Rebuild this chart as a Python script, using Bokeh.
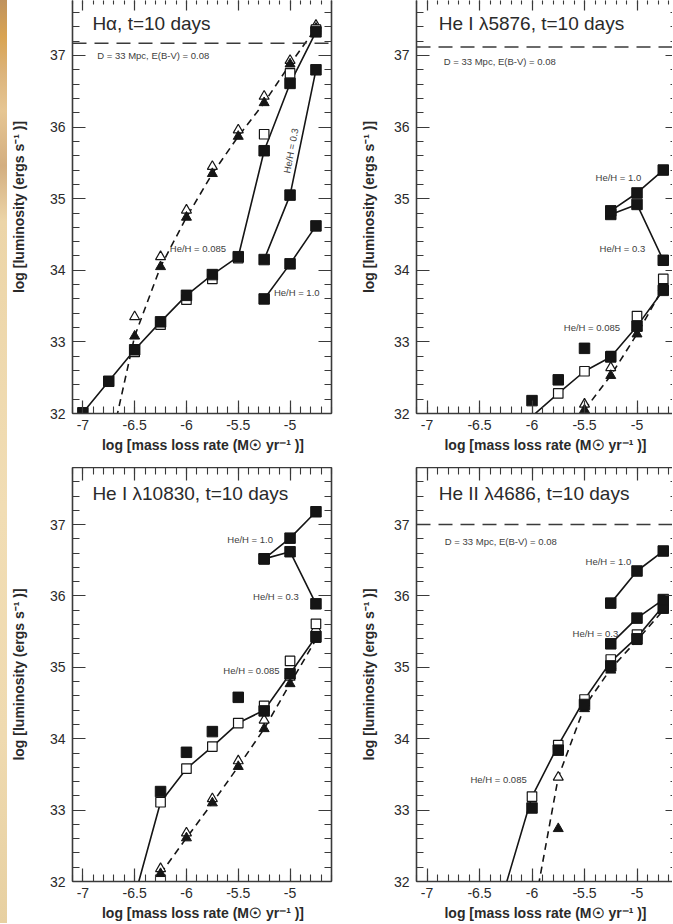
from bokeh.plotting import figure
from bokeh.layouts import column, row
from bokeh.models import (LinearAxis, Span, Label, FixedTicker, Range1d, Div,
                          CustomJSTickFormatter)
from bokeh.embed import file_html
from bokeh.resources import INLINE

# ------------------------------------------------------------------ data
# --- H alpha
ha_solid_x = [-7.0, -6.75, -6.5, -6.25, -6.0, -5.75, -5.5, -5.25, -5.0, -4.75]
ha_solid_y = [32.01, 32.45, 32.89, 33.28, 33.65, 33.94, 34.19, 35.67, 36.61, 37.33]
ha_fsq_x = [-7.0, -6.75, -6.5, -6.25, -6.0, -5.75, -5.5, -5.25, -5.0, -4.75]
ha_fsq_y = [32.01, 32.45, 32.89, 33.28, 33.65, 33.94, 34.19, 35.67, 36.61, 37.33]
ha_osq_x = [-6.5, -6.25, -6.0, -5.75, -5.5, -5.25, -5.0, -4.75]
ha_osq_y = [32.86, 33.24, 33.59, 33.88, 34.17, 35.90, 36.75, 37.36]
ha_dash_x = [-6.75, -6.5, -6.25, -6.0, -5.75, -5.5, -5.25, -5.0, -4.75]
ha_dash_y = [31.45, 33.08, 34.05, 34.74, 35.35, 35.87, 36.34, 36.88, 37.38]
ha_otri_x = [-6.5, -6.25, -6.0, -5.75, -5.5, -5.25, -5.0, -4.75]
ha_otri_y = [33.35, 34.19, 34.84, 35.45, 35.96, 36.43, 36.93, 37.42]
ha_ftri_x = [-6.5, -6.25, -6.0, -5.75, -5.5, -5.25, -5.0, -4.75]
ha_ftri_y = [33.08, 34.05, 34.74, 35.35, 35.87, 36.34, 36.88, 37.38]
ha_he03_x = [-5.25, -5.0, -4.75]
ha_he03_y = [34.15, 35.05, 36.80]
ha_he10_x = [-5.25, -5.0, -4.75]
ha_he10_y = [33.60, 34.09, 34.62]

# --- He I 5876
h5_solid_x = [-6.0, -5.75, -5.5, -5.25, -5.0, -4.75]
h5_solid_y = [31.96, 32.28, 32.59, 32.79, 33.22, 33.72]
h5_fsq_x = [-6.0, -5.75, -5.5, -5.25, -5.0, -4.75]
h5_fsq_y = [32.18, 32.47, 32.91, 32.79, 33.22, 33.72]
h5_osq_x = [-5.75, -5.5, -5.25, -5.0, -4.75]
h5_osq_y = [32.28, 32.59, 32.80, 33.36, 33.88]
h5_dash_x = [-5.5, -5.25, -5.0, -4.75]
h5_dash_y = [32.05, 32.53, 33.11, 33.76]
h5_otri_x = [-5.5, -5.25, -5.0, -4.75]
h5_otri_y = [32.13, 32.64, 33.20, 33.84]
h5_ftri_x = [-5.5, -5.25, -5.0, -4.75]
h5_ftri_y = [32.05, 32.53, 33.11, 33.76]
h5_he03_x = [-5.25, -5.0, -4.75]
h5_he03_y = [34.78, 34.92, 34.14]
h5_he10_x = [-5.25, -5.0, -4.75]
h5_he10_y = [34.83, 35.08, 35.40]

# --- He I 10830
h10_solid_x = [-6.5, -6.25, -6.0, -5.75, -5.5, -5.25, -5.0, -4.75]
h10_solid_y = [31.79, 33.11, 33.58, 33.89, 34.22, 34.40, 34.91, 35.43]
h10_fsq_x = [-6.25, -6.0, -5.75, -5.5, -5.25, -5.0, -4.75]
h10_fsq_y = [33.26, 33.81, 34.10, 34.58, 34.39, 34.91, 35.43]
h10_osq_x = [-6.25, -6.0, -5.75, -5.5, -5.25, -5.0, -4.75]
h10_osq_y = [33.11, 33.58, 33.89, 34.22, 34.46, 35.09, 35.61]
h10_dash_x = [-6.25, -6.0, -5.75, -5.5, -5.25, -5.0, -4.75]
h10_dash_y = [32.11, 32.61, 33.10, 33.61, 34.14, 34.77, 35.39]
h10_otri_x = [-6.25, -6.0, -5.75, -5.5, -5.25, -5.0, -4.75]
h10_otri_y = [32.18, 32.68, 33.16, 33.69, 34.26, 34.86, 35.54]
h10_ftri_x = [-6.25, -6.0, -5.75, -5.5, -5.25, -5.0, -4.75]
h10_ftri_y = [32.11, 32.61, 33.10, 33.61, 34.14, 34.77, 35.39]
h10_he03_x = [-5.25, -5.0, -4.75]
h10_he03_y = [36.52, 36.62, 35.89]
h10_he10_x = [-5.25, -5.0, -4.75]
h10_he10_y = [36.52, 36.81, 37.18]

# --- He II 4686
h46_solid_x = [-6.25, -6.0, -5.75, -5.5, -5.25, -5.0, -4.75]
h46_solid_y = [31.95, 33.19, 33.91, 34.55, 35.08, 35.42, 35.86]
h46_fsq_x = [-6.0, -5.75, -5.5, -5.25, -5.0, -4.75]
h46_fsq_y = [33.03, 33.84, 34.48, 35.02, 35.40, 35.83]
h46_osq_x = [-6.0, -5.75, -5.5, -5.25, -5.0, -4.75]
h46_osq_y = [33.19, 33.91, 34.55, 35.11, 35.46, 35.88]
h46_dash_x = [-6.0, -5.75, -5.5, -5.25, -5.0, -4.75]
h46_dash_y = [31.45, 33.46, 34.45, 34.98, 35.38, 35.80]
h46_otri_x = [-5.75, -5.5, -5.25, -5.0, -4.75]
h46_otri_y = [33.46, 34.50, 35.02, 35.42, 35.84]
h46_ftri_x = [-5.75, -5.5, -5.25, -5.0, -4.75]
h46_ftri_y = [32.74, 34.42, 34.96, 35.36, 35.80]
h46_he03_x = [-5.25, -5.0, -4.75]
h46_he03_y = [35.33, 35.69, 35.95]
h46_he10_x = [-5.25, -5.0, -4.75]
h46_he10_y = [35.90, 36.35, 36.63]

# ticks
X_MAJOR = [-7.0, -6.5, -6.0, -5.5, -5.0]
X_MINOR = [round(-7.1 + 0.1 * i, 2) for i in range(26)]
X_TICK_TEXT = {-7.0: "-7", -6.5: "-6.5", -6.0: "-6", -5.5: "-5.5", -5.0: "-5"}
Y_MAJOR = [32, 33, 34, 35, 36, 37]
Y_MINOR = [round(32 + 0.2 * i, 2) for i in range(30)]

X_TITLE = "log [mass loss rate (M\u2609 yr\u207b\u00b9 )]"
Y_TITLE = "log [luminosity (ergs s\u207b\u00b9 )]"

# ------------------------------------------------------------------ style
FONT = "Liberation Sans"
INK = "#151515"
AXC = "#3a3a3a"
TXT = "#2a2a2a"
NOTE = "#404040"


def style_axis(ax, major_in, minor_in, line, labels):
    ax.major_tick_in = major_in
    ax.major_tick_out = 0
    ax.minor_tick_in = minor_in
    ax.minor_tick_out = 0
    ax.major_tick_line_color = AXC
    ax.minor_tick_line_color = AXC if minor_in > 0 else None
    ax.major_tick_line_width = 1.2
    ax.minor_tick_line_width = 1.1
    ax.axis_line_color = AXC if line else None
    ax.axis_line_width = 1.6
    if labels:
        ax.major_label_text_font = FONT
        ax.major_label_text_font_size = "14px"
        ax.major_label_text_color = TXT
    else:
        ax.formatter = CustomJSTickFormatter(code="return '';")
        ax.major_label_text_font_size = "1px"
        ax.major_label_standoff = 0


def make_panel(width, height, x_end, y_end, mb_left, mb_right, mb_bottom,
               is_top, is_right, ylab_standoff):
    p = figure(width=width, height=height,
               x_range=Range1d(-7.1, x_end), y_range=Range1d(32, y_end),
               output_backend="svg", toolbar_location=None,
               min_border_left=mb_left, min_border_right=mb_right,
               min_border_top=0, min_border_bottom=mb_bottom)
    p.outline_line_color = None
    p.background_fill_color = "white"
    p.border_fill_color = "white"
    p.xgrid.visible = False
    p.ygrid.visible = False

    xa = p.xaxis[0]
    xa.ticker = FixedTicker(ticks=X_MAJOR, minor_ticks=X_MINOR)
    xa.major_label_overrides = X_TICK_TEXT
    style_axis(xa, 13, 7, True, True)
    xa.major_label_standoff = 6
    xa.axis_label = X_TITLE
    xa.axis_label_text_font = FONT
    xa.axis_label_text_font_size = "14px"
    xa.axis_label_text_font_style = "bold"
    xa.axis_label_text_color = TXT
    xa.axis_label_standoff = 4

    ya = p.yaxis[0]
    ya.ticker = FixedTicker(ticks=Y_MAJOR, minor_ticks=Y_MINOR)
    style_axis(ya, 13, 7, True, True)
    ya.major_label_standoff = 7
    ya.axis_label = Y_TITLE
    ya.axis_label_text_font = FONT
    ya.axis_label_text_font_size = "14px"
    ya.axis_label_text_font_style = "bold"
    ya.axis_label_text_color = TXT
    ya.axis_label_standoff = ylab_standoff

    top = LinearAxis(ticker=FixedTicker(ticks=X_MAJOR, minor_ticks=X_MINOR))
    if is_top:
        style_axis(top, 10, 4, False, False)
    else:
        style_axis(top, 13, 7, True, False)
    p.add_layout(top, "above")

    rgt = LinearAxis(ticker=FixedTicker(ticks=Y_MAJOR, minor_ticks=Y_MINOR))
    if is_right:
        style_axis(rgt, 7, 2, False, False)
    else:
        style_axis(rgt, 13, 7, True, False)
    p.add_layout(rgt, "right")
    return p


def draw(p, solid, fsq, osq, dash, otri, ftri, he03, he10):
    p.line(dash[0], dash[1], line_color=INK, line_width=1.6, line_dash="7 5")
    p.line(solid[0], solid[1], line_color=INK, line_width=1.6)
    p.line(he03[0], he03[1], line_color=INK, line_width=1.6)
    p.line(he10[0], he10[1], line_color=INK, line_width=1.6)
    p.scatter(otri[0], otri[1], marker="triangle", size=10, fill_color="white",
              line_color=INK, line_width=1.2)
    p.scatter(ftri[0], ftri[1], marker="triangle", size=10, fill_color=INK,
              line_color=INK)
    p.scatter(osq[0], osq[1], marker="square", size=9.5, fill_color="white",
              line_color=INK, line_width=1.2)
    p.scatter(fsq[0], fsq[1], marker="square", size=10.5, fill_color=INK,
              line_color=INK)
    p.scatter(he03[0], he03[1], marker="square", size=10.5, fill_color=INK, line_color=INK)
    p.scatter(he10[0], he10[1], marker="square", size=10.5, fill_color=INK, line_color=INK)


def title(p, x, y, text):
    p.add_layout(Label(x=x, y=y, text=text, text_font=FONT, text_font_size="19px",
                       text_color=TXT, text_align="left", text_baseline="middle"))


def note(p, x, y, text, angle=0.0, align="left"):
    p.add_layout(Label(x=x, y=y, text=text, text_font=FONT, text_font_size="9.5px",
                       text_color=NOTE, text_align=align, text_baseline="middle",
                       angle=angle))


def limit(p, level):
    p.add_layout(Span(location=level, dimension="width", line_color=AXC,
                      line_width=1.5, line_dash="14 8"))


# ------------------------------------------------------------------ panels
TOP_H = 467       # frame 413 + bottom border 54
BOT_H = 456       # frame 416 + bottom border 40
TOP_YEND = 37.768
BOT_YEND = 37.8

# top-left: H alpha
p1 = make_panel(338, TOP_H, -4.6, TOP_YEND, 63, 14, 54, True, False, 20)
draw(p1, (ha_solid_x, ha_solid_y), (ha_fsq_x, ha_fsq_y), (ha_osq_x, ha_osq_y),
     (ha_dash_x, ha_dash_y), (ha_otri_x, ha_otri_y), (ha_ftri_x, ha_ftri_y),
     (ha_he03_x, ha_he03_y), (ha_he10_x, ha_he10_y))
title(p1, -6.908, 37.45, "H\u03b1, t=10 days")
limit(p1, 37.17)
note(p1, -6.861, 37.0, "D = 33 Mpc,  E(B-V) = 0.08")
note(p1, -6.161, 34.30, "He/H = 0.085")
note(p1, -5.156, 33.69, "He/H = 1.0")
note(p1, -4.993, 35.67, "He/H = 0.3", angle=1.38, align="center")

# top-right: He I 5876
p2 = make_panel(327, TOP_H, -4.662, TOP_YEND, 71, 0, 54, True, True, 14)
draw(p2, (h5_solid_x, h5_solid_y), (h5_fsq_x, h5_fsq_y), (h5_osq_x, h5_osq_y),
     (h5_dash_x, h5_dash_y), (h5_otri_x, h5_otri_y), (h5_ftri_x, h5_ftri_y),
     (h5_he03_x, h5_he03_y), (h5_he10_x, h5_he10_y))
title(p2, -6.888, 37.44, "He I \u03bb5876, t=10 days")
limit(p2, 37.12)
note(p2, -6.84, 36.92, "D = 33 Mpc,  E(B-V) = 0.08")
note(p2, -5.395, 35.30, "He/H = 1.0")
note(p2, -5.357, 34.30, "He/H = 0.3")
note(p2, -5.697, 33.20, "He/H = 0.085")

# bottom-left: He I 10830
p3 = make_panel(338, BOT_H, -4.6, BOT_YEND, 63, 14, 40, False, False, 20)
draw(p3, (h10_solid_x, h10_solid_y), (h10_fsq_x, h10_fsq_y), (h10_osq_x, h10_osq_y),
     (h10_dash_x, h10_dash_y), (h10_otri_x, h10_otri_y), (h10_ftri_x, h10_ftri_y),
     (h10_he03_x, h10_he03_y), (h10_he10_x, h10_he10_y))
title(p3, -6.908, 37.43, "He I \u03bb10830, t=10 days")
note(p3, -5.606, 36.79, "He/H = 1.0")
note(p3, -5.357, 35.99, "He/H = 0.3")
note(p3, -5.644, 34.96, "He/H = 0.085")

# bottom-right: He II 4686
p4 = make_panel(327, BOT_H, -4.662, BOT_YEND, 71, 0, 40, False, True, 14)
draw(p4, (h46_solid_x, h46_solid_y), (h46_fsq_x, h46_fsq_y), (h46_osq_x, h46_osq_y),
     (h46_dash_x, h46_dash_y), (h46_otri_x, h46_otri_y), (h46_ftri_x, h46_ftri_y),
     (h46_he03_x, h46_he03_y), (h46_he10_x, h46_he10_y))
title(p4, -6.888, 37.43, "He II \u03bb4686, t=10 days")
limit(p4, 37.0)
note(p4, -6.83, 36.77, "D = 33 Mpc,  E(B-V) = 0.08")
note(p4, -5.49, 36.49, "He/H = 1.0")
note(p4, -5.614, 35.47, "He/H = 0.3")
note(p4, -6.586, 33.43, "He/H = 0.085")

# decorative tan strip along the left edge of the page
strip = Div(text="", width=7, height=TOP_H + BOT_H, margin=0,
            styles={"background": "linear-gradient(to bottom, #bf925e 0%, #d9a452 4%, "
                                  "#dcb47c 8%, #e6c693 12%, #d3ae80 18%, #ecd5a8 24%, "
                                  "#f1ddb4 55%, #efdab0 80%, #e7d0a1 100%)"})

layout = row(strip, column(row(p1, p2), row(p3, p4)))

open("out.html", "w").write(file_html(layout, INLINE, title="Line luminosities"))
